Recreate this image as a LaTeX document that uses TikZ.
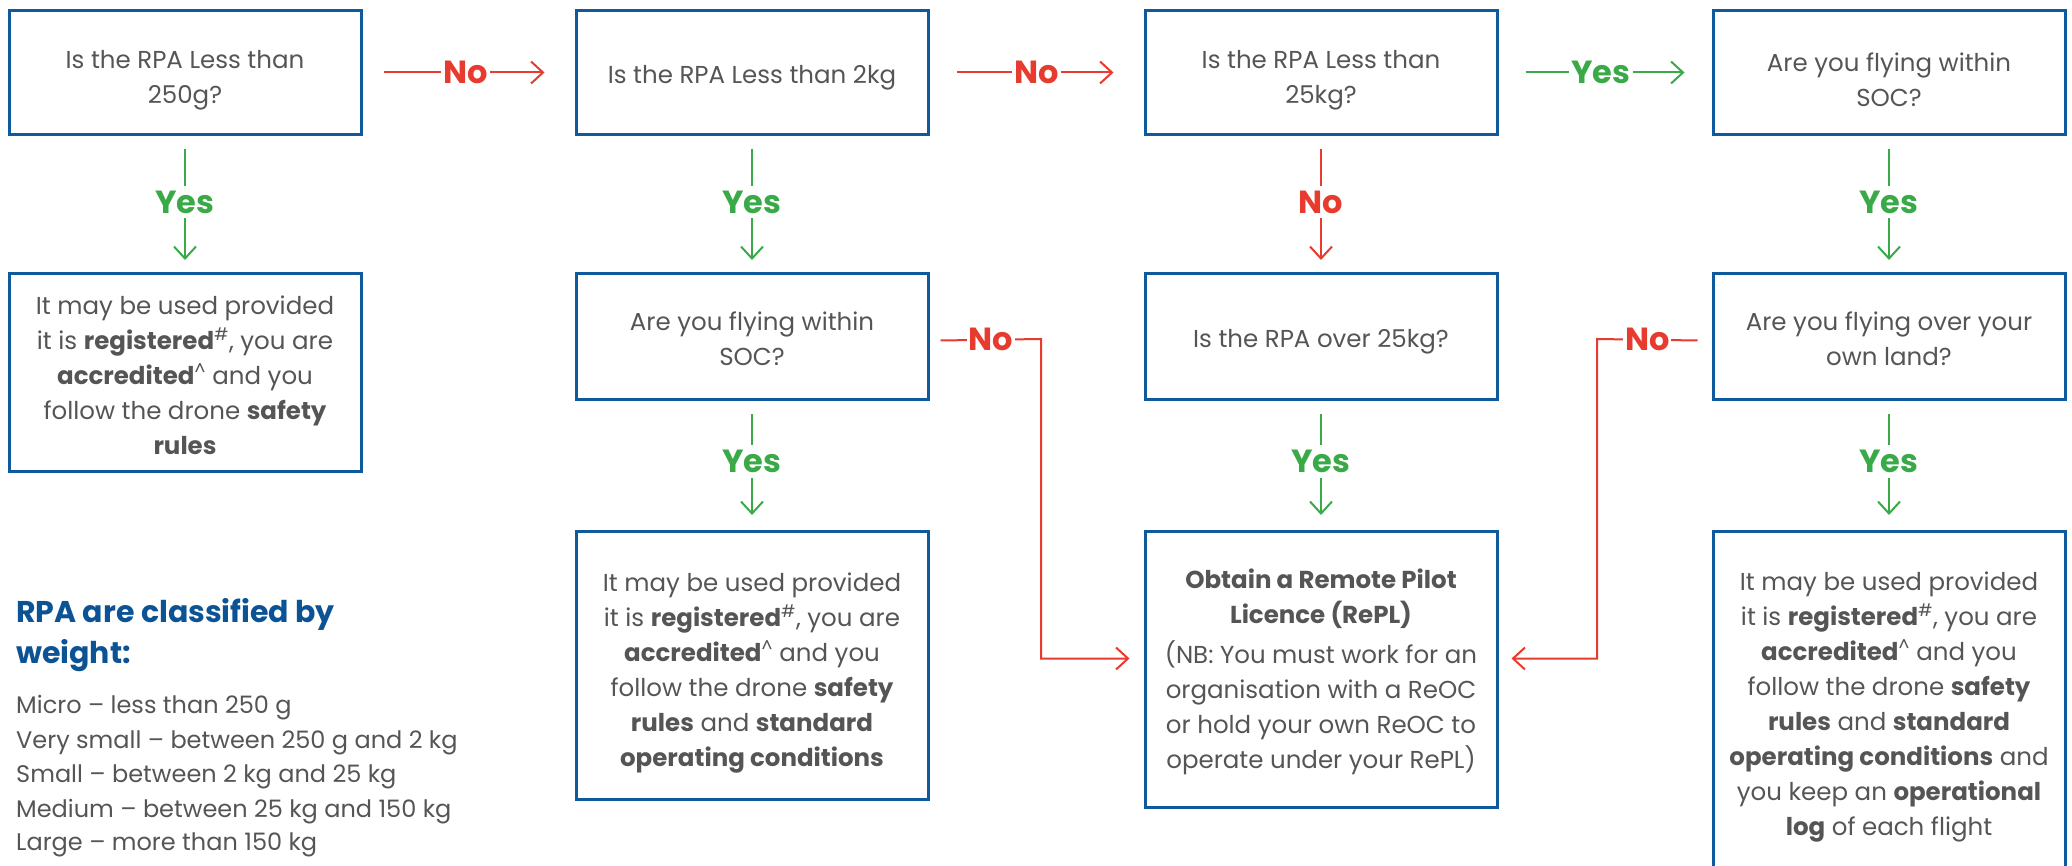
\documentclass[tikz,border=0pt]{standalone}
\usepackage{fontspec}
\setmainfont{Poppins}
\usetikzlibrary{arrows.meta,calc}
\definecolor{bblue}{HTML}{0E5A9C}
\definecolor{tblue}{HTML}{0B5394}
\definecolor{tgray}{HTML}{555555}
\definecolor{nred}{HTML}{E63B2E}
\definecolor{ygreen}{HTML}{3AAA48}
\newcommand{\sphash}{\textsuperscript{\#}}
\newcommand{\spcaret}{\textsuperscript{\textasciicircum}}
\newcommand{\ts}[1][28pt]{\rule{0pt}{#1}}
\begin{document}
\begin{tikzpicture}[x=1pt,y=-1pt,
  box/.style={draw=bblue, line width=3pt, minimum width=352pt, inner sep=4pt,
    align=center, text=tgray, font=\fontsize{24.5}{35}\selectfont, anchor=north},
  tagyes/.style={fill=white, inner xsep=2pt, inner ysep=5pt, text=ygreen, font=\bfseries\fontsize{32}{32}\selectfont},
  tagno/.style={fill=white, inner xsep=2pt, inner ysep=5pt, text=nred, font=\bfseries\fontsize{32}{32}\selectfont},
  yesarr/.style={draw=ygreen, line width=2pt, -{Straight Barb[length=12pt,width=22pt]}},
  noarr/.style={draw=nred, line width=2pt, -{Straight Barb[length=12pt,width=22pt]}},
  legtxt/.style={anchor=base west, inner sep=0pt, text=tgray, font=\fontsize{24}{35}\selectfont},
  legtitle/.style={anchor=base west, inner sep=0pt, text=tblue, font=\bfseries\fontsize{30}{41}\selectfont}
]
\useasboundingbox (0,0) rectangle (2072,866);
\clip (0,0) rectangle (2072,866);

% row 1
\node[box, minimum height=124pt] (q250) at (185,9) {\ts[33pt]Is the RPA Less than\\250g?};
\node[box, minimum height=124pt] (q2) at (752,9) {\ts Is the RPA Less than 2kg};
\node[box, minimum height=124pt] (q25) at (1321,9) {\ts[33pt]Is the RPA Less than\\25kg?};
\node[box, minimum height=124pt] (soc1) at (1889,9) {\ts[33pt]Are you flying within\\SOC?};

% row 2
\node[box, minimum height=198pt] (micro) at (185,272) {\ts[25pt]It may be used provided\\it is \textbf{registered}\sphash, you are\\\textbf{accredited}\spcaret{} and you\\follow the drone \textbf{safety}\\\textbf{rules}};
\node[box, minimum height=126pt] (soc2) at (752,272) {\ts[24pt]Are you flying within\\SOC?};
\node[box, minimum height=126pt] (over25) at (1321,272) {\ts Is the RPA over 25kg?};
\node[box, minimum height=126pt] (land) at (1889,272) {\ts[24pt]Are you flying over your\\own land?};

% row 3
\node[box, minimum height=268pt] (small) at (752,530) {\ts[33pt]It may be used provided\\it is \textbf{registered}\sphash, you are\\\textbf{accredited}\spcaret{} and you\\follow the drone \textbf{safety}\\\textbf{rules} and \textbf{standard}\\\textbf{operating conditions}};
\node[box, minimum height=276pt] (repl) at (1321,530) {\ts[25pt]\textbf{Obtain a Remote Pilot}\\\textbf{Licence (RePL)}\\[5pt](NB: You must work for an\\organisation with a ReOC\\or hold your own ReOC to\\operate under your RePL)};
\node[box, minimum height=338pt] (own) at (1889,530) {\ts[31pt]It may be used provided\\it is \textbf{registered}\sphash, you are\\\textbf{accredited}\spcaret{} and you\\follow the drone \textbf{safety}\\\textbf{rules} and \textbf{standard}\\\textbf{operating conditions} and\\you keep an \textbf{operational}\\\textbf{log} of each flight};

% horizontal arrows
\draw[noarr, shorten <=21pt, shorten >=30pt] (q250.east) -- node[tagno, xshift=-3pt] (n1) {No} (q2.west);
\draw[noarr, shorten <=27pt, shorten >=30pt] (q2.east) -- node[tagno] (n2) {No} (q25.west);
\draw[yesarr, shorten <=27pt, shorten >=27pt] (q25.east) -- node[tagyes, xshift=-4pt] (y1) {Yes} (soc1.west);

% vertical arrows
\draw[yesarr, shorten <=13pt, shorten >=12pt] (q250.south) -- node[tagyes, yshift=2pt] (y2) {Yes} (micro.north);
\draw[yesarr, shorten <=13pt, shorten >=12pt] (q2.south) -- node[tagyes, yshift=2pt] (y3) {Yes} (soc2.north);
\draw[noarr, shorten <=13pt, shorten >=12pt] (q25.south) -- node[tagno, yshift=2pt] (n3) {No} (over25.north);
\draw[yesarr, shorten <=13pt, shorten >=12pt] (soc1.south) -- node[tagyes, yshift=2pt] (y4) {Yes} (land.north);
\draw[yesarr, shorten <=13pt, shorten >=15pt] (soc2.south) -- node[tagyes, yshift=4pt] (y5) {Yes} (small.north);
\draw[yesarr, shorten <=13pt, shorten >=15pt] (over25.south) -- node[tagyes, yshift=4pt] (y6) {Yes} (repl.north);
\draw[yesarr, shorten <=13pt, shorten >=15pt] (land.south) -- node[tagyes, yshift=4pt] (y7) {Yes} (own.north);

% elbow arrows
\coordinate (e1) at (1041,339);
\coordinate (e2) at (1597,339);
\draw[noarr] ([xshift=11pt,yshift=-4pt]soc2.east) -- node[tagno] (n4) {No} (e1) |- ([xshift=-14pt,yshift=11pt]repl.west);
\draw[noarr] ([xshift=-14pt,yshift=-4pt]land.west) -- node[tagno] (n5) {No} (e2) |- ([xshift=13pt,yshift=11pt]repl.east);

% legend
\node[legtitle] (t1) at (16,622) {RPA are classified by};
\node[legtitle] (t2) at (16,663) {weight:};
\node[legtxt] (l1) at (16,713) {Micro – less than 250 g};
\node[legtxt] (l2) at (16,748) {Very small – between 250 g and 2 kg};
\node[legtxt] (l3) at (16,782) {Small – between 2 kg and 25 kg};
\node[legtxt] (l4) at (16,817) {Medium – between 25 kg and 150 kg};
\node[legtxt] (l5) at (16,850) {Large – more than 150 kg};
\end{tikzpicture}
\end{document}
